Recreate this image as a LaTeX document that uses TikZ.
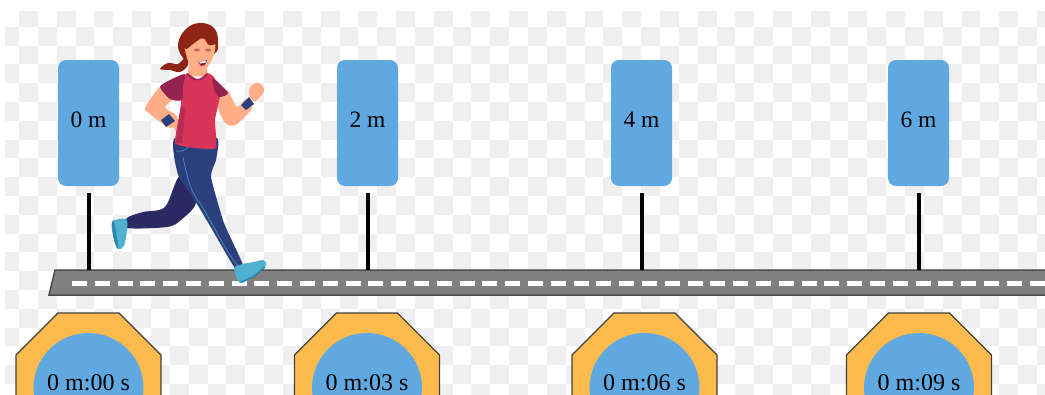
\documentclass[tikz,border=0pt]{standalone}
\usepackage{fontspec}
\setmainfont{Liberation Serif}
\usetikzlibrary{calc}
\definecolor{boardgray}{HTML}{EFEFEF}
\definecolor{signblue}{HTML}{60A8E0}
\definecolor{clockorange}{HTML}{FDBB4E}
\definecolor{roadgray}{HTML}{808080}
\definecolor{skin}{HTML}{FDAE86}
\definecolor{hair}{HTML}{8E2416}
\definecolor{shirt}{HTML}{D9355A}
\definecolor{sleeve}{HTML}{952350}
\definecolor{jeans}{HTML}{2B3F7C}
\definecolor{jeansdark}{HTML}{2C2A64}
\definecolor{seam}{HTML}{4C86B8}
\definecolor{shoe}{HTML}{4FB1CF}
\definecolor{shoedark}{HTML}{2A86A8}

\begin{document}
\begin{tikzpicture}[x=1pt, y=-1pt,
    signbox/.style={fill=signblue, rounded corners=8pt, minimum width=61pt, minimum height=126pt,
                    inner sep=0pt, text depth=7pt, font=\fontsize{23.5}{26}\selectfont},
    pole/.style={line width=4pt, black, shorten <=7pt},
    dial/.style={circle, fill=signblue, minimum size=110pt, inner sep=0pt},
    timelbl/.style={anchor=base, inner sep=0pt, font=\fontsize{24}{26}\selectfont},
    octa/.style={fill=clockorange, draw=black!75, line width=1.2pt},
]
    \useasboundingbox (0,0) rectangle (1045,394);
    \clip (0,0) rectangle (1045,394);
    \fill[white] (0,0) rectangle (1045,394);

    % checker background
    \begin{scope}
        \clip (5,11) rectangle (1045,394);
        \foreach \i in {0,...,55} {
            \foreach \j in {0,...,20} {
                \pgfmathparse{int(mod(\i+\j,2))}
                \ifnum\pgfmathresult=1
                    \fill[boardgray] ({0.2+18.85*\i},{7.9+18.8*\j}) rectangle ++(18.85,18.8);
                \fi
            }
        }
    \end{scope}

    % road
    \coordinate (roadtop) at (55,270);
    \coordinate (roadend) at (1045,283);
    \draw[fill=roadgray, draw=black!70, line width=1.5pt] (roadtop) -- (1050,270) -- (1050,295) -- (49,295) -- cycle;
    \coordinate (dashstart) at (72,283);
    \draw[white, line width=5pt, dash pattern=on 15pt off 7.8pt] (dashstart) -- (roadend);

    % distance signs
    \foreach \name/\xpos/\txt in {s0/88.5/0 m, s2/367.5/2 m, s4/641.5/4 m, s6/918.5/6 m} {
        \node[signbox] (\name) at (\xpos,123) {\txt};
        \draw[pole] (\name.south) -- (\name.south |- roadtop);
    }

    % stopwatches
    \foreach \name/\xpos/\txt in {c0/88.5/0 m:00 s, c3/367/0 m:03 s, c6/644.5/0 m:06 s, c9/919/0 m:09 s} {
        \draw[octa] (\xpos,420) -- ++(-72.5,0) -- ++(0,-65) -- ++(42,-42) -- ++(61,0) -- ++(42,42) -- ++(0,65) -- cycle;
        \node[dial] (\name) at (\xpos,388) {};
        \node[timelbl] (\name lbl) at (\xpos,390) {\txt};
    }

    % runner, back leg and shoe
    \fill[jeansdark] plot[smooth cycle, tension=0.5] coordinates {(180,176) (165,207) (143,212) (127,218) (127,228) (167,227) (181,220) (196,202)};
    \fill[shoe] plot[smooth cycle, tension=0.5] coordinates {(112,222) (126,219) (127,230) (124,246) (118,249) (114,240)};
    \fill[shoedark] plot[smooth cycle, tension=0.5] coordinates {(112,223) (114,222) (118,245) (118,249) (114,240)};
    % front leg
    \fill[jeans] plot[smooth cycle, tension=0.3] coordinates {(175,138) (174,156) (179,177) (197,204) (213,231) (235,268) (243,265) (224,223) (211,177) (216,160) (217,138)};
    \draw[seam, line width=0.8pt] (183,157) .. controls (187,175) and (190,192) .. (200,203) .. controls (215,228) and (225,250) .. (238,266);
    \draw[seam, line width=0.7pt] (176,151) .. controls (182,152) and (186,150) .. (188,147);
    \fill[shoe] plot[smooth cycle, tension=0.4] coordinates {(234,268) (243,264) (254,262) (263,260) (266,265) (253,277) (240,283)};
    \draw[shoedark, line width=1.4pt] (241,282) -- (253,277) -- (265,267);

    % ponytail and back hair
    \fill[hair] plot[smooth cycle, tension=0.6] coordinates {(160,69) (168,63) (178,64) (186,57) (188,65) (180,72) (170,70)};
    \fill[hair] plot[smooth cycle, tension=0.7] coordinates {(178,44) (186,29) (200,23) (214,28) (218,42) (214,54) (190,60) (183,58)};
    % arms behind the shirt
    \fill[skin] plot[smooth cycle, tension=0.6] coordinates {(165,83) (146,106) (149,113) (171,128) (177,116) (165,107) (180,93)};
    \fill[skin] plot[smooth cycle, tension=0.5] coordinates {(215,95) (227,90) (237,107) (246,99) (252,108) (237,124) (228,125) (221,116)};
    \fill[skin] plot[smooth cycle, tension=0.7] coordinates {(249,92) (252,85) (259,83) (264,90) (259,98) (253,101)};
    \fill[skin] plot[smooth cycle, tension=0.6] coordinates {(173,119) (187,122) (190,129) (184,134) (175,130)};
    % neck and face
    \fill[skin] (190,60) -- (205,60) -- (208,76) -- (187,76) -- cycle;
    \fill[skin] plot[smooth cycle, tension=0.6] coordinates {(185,42) (198,38) (214,42) (214,54) (208,66) (200,71) (190,64) (186,54)};
    \fill[hair] plot[smooth cycle, tension=0.6] coordinates {(183,42) (192,29) (207,29) (216,42) (209,45) (203,38) (193,44) (186,49)};
    \fill[sleeve!55!skin] (197,50) ellipse (3 and 1.5) (208,50) ellipse (3 and 1.5);
    \fill[sleeve] (198,62) -- (207,60) -- (205,65) -- (201,66) -- cycle;
    \fill[white] (199,62) -- (206,60.5) -- (205.5,62.5) -- (200,63.5) -- cycle;
    % shirt
    \fill[shirt] plot[smooth cycle, tension=0.25] coordinates {(187,73) (198,80) (207,73) (214,77) (220,95) (215,120) (216,148) (195,148) (175,143) (181,105) (181,85)};
    \fill[sleeve!50!shirt] (181,105) -- (185,110) -- (182,143) -- (176,143) -- cycle;
    \fill[sleeve] plot[smooth cycle, tension=0.4] coordinates {(185,74) (170,80) (160,87) (170,99) (182,100) (183,85)};
    \fill[sleeve] plot[smooth cycle, tension=0.4] coordinates {(213,78) (228,93) (219,97) (214,89)};
    \draw[sleeve, line width=1.4pt] (187,74) .. controls (192,81) and (202,82) .. (207,74);
    % wrist bands
    \fill[jeans] (161,120) -- (169,114) -- (175,121) -- (166,127) -- cycle;
    \fill[jeans] (241,105) -- (249,97) -- (254,104) -- (246,110) -- cycle;
\end{tikzpicture}
\end{document}
